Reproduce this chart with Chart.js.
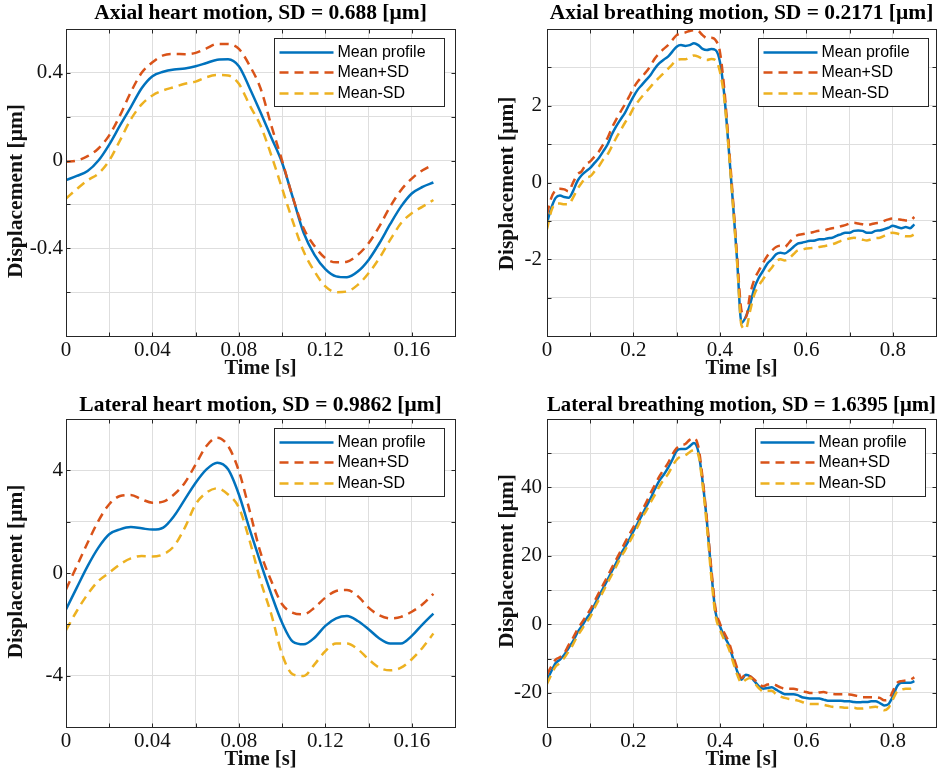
<!DOCTYPE html>
<html>
<head>
<meta charset="utf-8">
<script src="https://cdn.jsdelivr.net/npm/chart.js@4.4.0/dist/chart.umd.min.js"></script>
<style>
html, body { margin: 0; padding: 0; background: #fff; }
#wrap { position: relative; width: 945px; height: 774px; overflow: hidden; }
canvas { position: absolute; }
</style>
</head>
<body>
<div id="wrap">
  <canvas id="c1" width="470" height="385" style="left:0;top:0"></canvas>
  <canvas id="c2" width="475" height="385" style="left:470px;top:0"></canvas>
  <canvas id="c3" width="470" height="389" style="left:0;top:385px"></canvas>
  <canvas id="c4" width="475" height="389" style="left:470px;top:385px"></canvas>
</div>
<script>
//
// Data

var legendLabels = ['Mean profile', 'Mean+SD', 'Mean-SD'];

var heartTime = [0, 0.005, 0.01, 0.015, 0.02, 0.025, 0.03, 0.035, 0.04, 0.045,
    0.05, 0.055, 0.06, 0.065, 0.07, 0.075, 0.08, 0.085, 0.09, 0.095,
    0.1, 0.105, 0.11, 0.115, 0.12, 0.125, 0.13, 0.135, 0.14, 0.145,
    0.15, 0.155, 0.16, 0.165, 0.17];

var breathTime = [0, 0.01, 0.02, 0.03, 0.04, 0.05, 0.06, 0.07, 0.08, 0.09,
    0.1, 0.11, 0.12, 0.13, 0.14, 0.15, 0.16, 0.17, 0.18, 0.19,
    0.2, 0.21, 0.22, 0.23, 0.24, 0.25, 0.26, 0.27, 0.28, 0.29,
    0.3, 0.31, 0.32, 0.33, 0.34, 0.35, 0.36, 0.37, 0.38, 0.39,
    0.4, 0.41, 0.42, 0.43, 0.44, 0.45, 0.46, 0.47, 0.48, 0.49,
    0.5, 0.51, 0.52, 0.53, 0.54, 0.55, 0.56, 0.57, 0.58, 0.59,
    0.6, 0.61, 0.62, 0.63, 0.64, 0.65, 0.66, 0.67, 0.68, 0.69,
    0.7, 0.71, 0.72, 0.73, 0.74, 0.75, 0.76, 0.77, 0.78, 0.79,
    0.8, 0.81, 0.82, 0.83, 0.84, 0.85];

// Axial heart motion
var axialHeartMean = [-0.089, -0.07, -0.048, 0.0, 0.073, 0.16, 0.244, 0.33, 0.385, 0.405,
    0.415, 0.42, 0.43, 0.445, 0.46, 0.462, 0.43, 0.33, 0.22, 0.105,
    -0.01, -0.17, -0.33, -0.43, -0.495, -0.528, -0.532, -0.506, -0.453, -0.377,
    -0.29, -0.21, -0.15, -0.12, -0.1];
var axialHeartPlus = [-0.006, 0.0, 0.02, 0.055, 0.115, 0.206, 0.312, 0.4, 0.448, 0.48,
    0.486, 0.485, 0.491, 0.512, 0.532, 0.532, 0.509, 0.433, 0.33, 0.16,
    0.0, -0.17, -0.31, -0.39, -0.445, -0.464, -0.461, -0.43, -0.377, -0.3,
    -0.21, -0.135, -0.082, -0.044, -0.018];
var axialHeartMinus = [-0.173, -0.13, -0.09, -0.059, 0.0, 0.092, 0.188, 0.256, 0.297, 0.32,
    0.335, 0.35, 0.36, 0.38, 0.39, 0.388, 0.35, 0.252, 0.16, 0.024,
    -0.127, -0.279, -0.415, -0.506, -0.574, -0.6, -0.597, -0.567, -0.514, -0.445,
    -0.362, -0.286, -0.24, -0.21, -0.18];

// Axial breathing motion
var axialBreathMean = [-1.05, -0.66, -0.4, -0.34, -0.38, -0.4, -0.23, 0.03, 0.19, 0.29,
    0.38, 0.51, 0.64, 0.81, 0.99, 1.25, 1.46, 1.64, 1.81, 2.03,
    2.24, 2.42, 2.55, 2.68, 2.81, 2.98, 3.11, 3.2, 3.28, 3.41,
    3.54, 3.58, 3.56, 3.58, 3.63, 3.58, 3.48, 3.45, 3.48, 3.45,
    3.15, 2.3, 0.95, -0.5, -2.05, -3.66, -3.5, -3.17, -2.74, -2.48,
    -2.3, -2.11, -2.0, -1.87, -1.83, -1.85, -1.78, -1.68, -1.59, -1.57,
    -1.54, -1.52, -1.51, -1.48, -1.48, -1.45, -1.44, -1.39, -1.35, -1.31,
    -1.31, -1.26, -1.25, -1.26, -1.31, -1.31, -1.26, -1.25, -1.22, -1.18,
    -1.13, -1.16, -1.19, -1.16, -1.19, -1.09];
var axialBreathPlus = [-0.83, -0.4, -0.2, -0.16, -0.18, -0.23, -0.01, 0.21, 0.29, 0.47,
    0.55, 0.68, 0.81, 0.99, 1.16, 1.42, 1.64, 1.84, 2.03, 2.24,
    2.46, 2.63, 2.76, 2.89, 3.05, 3.24, 3.37, 3.48, 3.58, 3.71,
    3.84, 3.89, 3.91, 3.95, 3.97, 3.95, 3.84, 3.76, 3.77, 3.71,
    3.41, 2.46, 1.07, -0.4, -1.96, -3.34, -3.52, -2.91, -2.52, -2.3,
    -2.09, -1.91, -1.78, -1.68, -1.65, -1.68, -1.57, -1.44, -1.37, -1.35,
    -1.33, -1.31, -1.28, -1.26, -1.25, -1.22, -1.19, -1.18, -1.14, -1.11,
    -1.07, -1.05, -1.07, -1.09, -1.11, -1.09, -1.06, -1.05, -1.0, -0.96,
    -0.94, -0.95, -0.97, -0.99, -0.99, -0.9];
var axialBreathMinus = [-1.22, -0.74, -0.55, -0.55, -0.57, -0.57, -0.4, -0.18, -0.01, 0.12,
    0.16, 0.29, 0.42, 0.6, 0.73, 0.94, 1.16, 1.35, 1.55, 1.72,
    1.94, 2.1, 2.24, 2.37, 2.5, 2.63, 2.74, 2.85, 2.96, 3.08,
    3.19, 3.21, 3.21, 3.26, 3.31, 3.28, 3.22, 3.19, 3.22, 3.19,
    2.89, 2.2, 0.9, -0.57, -2.13, -3.72, -3.82, -3.34, -2.91, -2.69,
    -2.52, -2.35, -2.22, -2.06, -2.0, -2.03, -1.98, -1.87, -1.77, -1.75,
    -1.72, -1.71, -1.7, -1.68, -1.66, -1.64, -1.61, -1.57, -1.52, -1.49,
    -1.46, -1.44, -1.46, -1.49, -1.51, -1.48, -1.45, -1.44, -1.39, -1.33,
    -1.31, -1.33, -1.37, -1.4, -1.4, -1.35];

// Lateral heart motion
var lateralHeartMean = [-1.42, -0.57, 0.27, 0.99, 1.51, 1.7, 1.79, 1.74, 1.69, 1.77,
    2.22, 2.87, 3.52, 4.04, 4.3, 4.04, 3.06, 1.7, 0.4, -0.83,
    -1.94, -2.68, -2.78, -2.52, -2.06, -1.77, -1.68, -1.87, -2.19, -2.55,
    -2.75, -2.75, -2.45, -2.0, -1.58];
var lateralHeartPlus = [-0.64, 0.27, 1.18, 2.03, 2.68, 3.0, 3.04, 2.87, 2.74, 2.78,
    3.06, 3.52, 4.23, 4.95, 5.27, 4.95, 3.97, 2.42, 0.8, -0.31,
    -1.22, -1.55, -1.61, -1.35, -0.96, -0.7, -0.66, -0.9, -1.35, -1.65,
    -1.77, -1.71, -1.51, -1.22, -0.81];
var lateralHeartMinus = [-2.23, -1.48, -0.83, -0.31, 0.01, 0.34, 0.57, 0.66, 0.64, 0.73,
    1.05, 1.77, 2.68, 3.13, 3.3, 3.06, 2.55, 1.25, -0.3, -1.61,
    -3.17, -3.95, -4.01, -3.56, -3.04, -2.75, -2.75, -2.97, -3.36, -3.69,
    -3.79, -3.69, -3.36, -2.91, -2.36];

// Lateral breathing motion
var lateralBreathMean = [-16.2, -13.7, -11.3, -10.3, -8.9, -6.9, -5.0, -2.5, -0.6, 1.4,
    3.3, 5.7, 8.2, 10.6, 13.0, 15.5, 17.9, 20.4, 22.5, 24.7,
    27.2, 29.6, 32.0, 34.5, 36.9, 39.6, 42.0, 43.7, 45.7, 48.1,
    50.7, 51.2, 51.2, 52.0, 53.0, 50.5, 41.8, 30.0, 15.5, 3.5,
    -0.5, -3.5, -5.9, -9.8, -13.7, -16.2, -14.7, -15.2, -16.6, -18.1,
    -18.8, -18.6, -18.4, -19.1, -19.8, -20.4, -20.4, -20.4, -20.7, -21.3,
    -21.5, -21.7, -21.7, -21.7, -22.0, -22.3, -22.3, -22.3, -22.3, -22.5,
    -22.5, -22.7, -22.8, -22.7, -22.7, -22.5, -22.5, -23.0, -23.7, -23.3,
    -21.1, -18.1, -17.1, -17.1, -17.1, -16.6];
var lateralBreathPlus = [-14.7, -12.3, -10.3, -9.6, -8.4, -6.1, -4.0, -1.6, 0.4, 2.3,
    4.3, 6.7, 9.2, 11.6, 14.0, 16.5, 18.9, 21.3, 23.8, 26.2,
    28.4, 30.9, 33.3, 35.7, 38.4, 40.8, 43.2, 45.2, 47.1, 49.6,
    51.5, 52.3, 52.7, 53.9, 54.4, 52.0, 42.7, 30.5, 16.5, 4.5,
    0.3, -2.5, -5.0, -8.9, -12.8, -15.7, -14.5, -15.2, -16.2, -17.4,
    -18.1, -17.6, -17.4, -17.8, -18.4, -18.8, -18.8, -18.8, -19.1, -19.6,
    -19.8, -20.1, -20.1, -19.9, -19.8, -20.1, -20.3, -20.4, -20.4, -20.4,
    -20.5, -20.7, -21.0, -21.3, -21.3, -21.3, -21.3, -21.5, -22.2, -22.0,
    -19.6, -17.1, -16.6, -16.4, -16.2, -15.5];
var lateralBreathMinus = [-17.4, -14.7, -12.3, -11.3, -9.8, -7.9, -5.9, -3.5, -1.6, 0.4,
    2.1, 4.8, 7.2, 9.6, 12.1, 14.5, 16.9, 19.4, 21.5, 23.8,
    26.2, 28.6, 31.2, 33.3, 35.7, 37.9, 40.3, 42.3, 43.9, 46.2,
    48.1, 49.1, 49.4, 50.3, 51.0, 49.6, 40.8, 28.5, 14.0, 2.5,
    -1.5, -4.5, -6.9, -10.8, -14.7, -17.1, -16.2, -15.7, -17.1, -18.6,
    -19.6, -19.4, -19.4, -20.4, -21.1, -21.5, -21.8, -22.0, -22.3, -22.7,
    -23.1, -23.3, -23.3, -23.3, -23.5, -23.8, -24.1, -24.2, -24.2, -24.4,
    -24.4, -24.4, -24.6, -24.6, -24.4, -24.2, -24.1, -24.4, -25.1, -24.4,
    -22.0, -19.6, -19.1, -18.8, -18.8, -18.1];

// Tick labels
var heartXLabels = [0, 0.04, 0.08, 0.12, 0.16];
var breathXLabels = [0, 0.2, 0.4, 0.6, 0.8];
var axialHeartYLabels = [-0.4, 0, 0.4];
var axialBreathYLabels = [-2, 0, 2];
var lateralHeartYLabels = [-4, 0, 4];
var lateralBreathYLabels = [-20, 0, 20, 40];

//
// Styles
var lineStyles = [
    { color: '#0072BD', dash: [] },
    { color: '#D95319', dash: [9, 6] },
    { color: '#EDB120', dash: [9, 6] }
];
var serif = '"Liberation Serif", "Times New Roman", serif';
var textColor = '#111';
var gridColor = '#dedede';

//
// Box, inward ticks, y label and legend like MATLAB
var boxPlugin = {
    id: 'matlabBox',
    afterDraw: function(chart) {
        var ctx = chart.ctx;
        var a = chart.chartArea;
        var p = chart.options.panel;
        var xs = chart.scales.x, ys = chart.scales.y;
        var L = Math.round(a.left) + 0.5, R = Math.round(a.right) + 0.5;
        var T = Math.round(a.top) + 0.5, B = Math.round(a.bottom) + 0.5;
        ctx.save();
        ctx.strokeStyle = '#262626';
        ctx.lineWidth = 1;
        ctx.beginPath();
        xs.ticks.forEach(function(t) {
            var px = Math.round(xs.getPixelForValue(t.value)) + 0.5;
            ctx.moveTo(px, B); ctx.lineTo(px, B - 4);
            ctx.moveTo(px, T); ctx.lineTo(px, T + 4);
        });
        ys.ticks.forEach(function(t) {
            var py = Math.round(ys.getPixelForValue(t.value)) + 0.5;
            ctx.moveTo(L, py); ctx.lineTo(L + 4, py);
            ctx.moveTo(R, py); ctx.lineTo(R - 4, py);
        });
        ctx.stroke();
        ctx.strokeRect(L, T, R - L, B - T);

        // y axis label
        ctx.save();
        ctx.translate(p.yTitleX, p.yTitleY);
        ctx.rotate(-Math.PI / 2);
        ctx.fillStyle = textColor;
        ctx.font = 'bold 21.5px ' + serif;
        ctx.textAlign = 'center';
        ctx.textBaseline = 'middle';
        ctx.fillText('Displacement [\u03bcm]', 0, 0);
        ctx.restore();

        // legend
        var w = 170, h = 68;
        var lx = Math.round(a.right - p.legendRight - w) + 0.5, ly = Math.round(a.top + 9) + 0.5;
        ctx.fillStyle = '#fff';
        ctx.fillRect(lx, ly, w, h);
        ctx.strokeRect(lx, ly, w, h);
        var rows = [14, 34, 55];
        chart.data.datasets.forEach(function(ds, i) {
            var yy = ly + rows[i];
            ctx.beginPath();
            ctx.strokeStyle = ds.borderColor;
            ctx.lineWidth = ds.borderWidth;
            ctx.setLineDash(ds.borderDash || []);
            ctx.moveTo(lx + 5, yy);
            ctx.lineTo(lx + 59, yy);
            ctx.stroke();
            ctx.setLineDash([]);
            ctx.fillStyle = '#000';
            ctx.font = '16px "Liberation Sans", Arial, sans-serif';
            ctx.textBaseline = 'middle';
            ctx.textAlign = 'left';
            ctx.fillText(ds.label, lx + 63, yy);
        });
        ctx.restore();
    }
};

function near(list, v, eps) {
    for (var i = 0; i < list.length; i++) {
        if (Math.abs(list[i] - v) < eps) return list[i];
    }
    return null;
}

function makePanel(p) {
    var datasets = p.series.map(function(vals, i) {
        return {
            label: legendLabels[i],
            data: vals.map(function(v, k) { return { x: p.time[k], y: v }; }),
            borderColor: lineStyles[i].color,
            borderDash: lineStyles[i].dash,
            borderWidth: 2.5,
            pointRadius: 0,
            fill: false,
            cubicInterpolationMode: 'monotone',
            order: 3 - i
        };
    });
    new Chart(document.getElementById(p.canvas), {
        type: 'line',
        data: { datasets: datasets },
        options: {
            panel: p,
            responsive: false,
            animation: false,
            devicePixelRatio: 1,
            layout: { padding: { left: 0, right: p.rightPad, top: 0, bottom: 0 } },
            plugins: {
                legend: { display: false },
                tooltip: { enabled: false },
                title: {
                    display: true,
                    text: p.title,
                    fullSize: false,
                    color: '#000',
                    font: { family: serif, size: 21.5, weight: 'bold' },
                    padding: p.titlePad
                }
            },
            scales: {
                x: {
                    type: 'linear',
                    min: 0,
                    max: p.xMax,
                    afterFit: function(s) { s.height = p.xAxisHeight; },
                    ticks: {
                        stepSize: p.xStep,
                        autoSkip: false,
                        maxRotation: 0,
                        padding: 2,
                        color: textColor,
                        font: { family: serif, size: 21 },
                        callback: function(v) {
                            var l = near(p.xLabels, v, p.xStep / 100);
                            return l === null ? '' : String(l);
                        }
                    },
                    grid: { color: gridColor, lineWidth: 1, drawTicks: false },
                    border: { display: false },
                    title: {
                        display: true,
                        text: 'Time [s]',
                        color: textColor,
                        font: { family: serif, size: 20.5, weight: 'bold' },
                        padding: { top: 0, bottom: p.xTitleBottom }
                    }
                },
                y: {
                    type: 'linear',
                    min: p.yMin,
                    max: p.yMax,
                    afterFit: function(s) { s.width = p.yAxisWidth; },
                    ticks: {
                        stepSize: p.yStep,
                        autoSkip: false,
                        padding: p.yTickPad,
                        color: textColor,
                        font: { family: serif, size: 21 },
                        callback: function(v) {
                            var l = near(p.yLabels, v, p.yStep / 100);
                            return l === null ? '' : String(l);
                        }
                    },
                    grid: { color: gridColor, lineWidth: 1, drawTicks: false },
                    border: { display: false },
                    title: { display: false }
                }
            }
        },
        plugins: [boxPlugin]
    });
}

makePanel({
    canvas: 'c1', title: 'Axial heart motion, SD = 0.688 [\u03bcm]',
    time: heartTime, series: [axialHeartMean, axialHeartPlus, axialHeartMinus],
    xMax: 0.18, xStep: 0.02, xLabels: heartXLabels,
    yMin: -0.8, yMax: 0.6, yStep: 0.2, yLabels: axialHeartYLabels,
    yAxisWidth: 66, yTickPad: 3, yTitleX: 16, yTitleY: 191, rightPad: 15, legendRight: 11,
    xAxisHeight: 49, xTitleBottom: 4, titlePad: { top: 0.6, bottom: 2.6 }
});
makePanel({
    canvas: 'c2', title: 'Axial breathing motion, SD = 0.2171 [\u03bcm]',
    time: breathTime, series: [axialBreathMean, axialBreathPlus, axialBreathMinus],
    xMax: 0.9, xStep: 0.1, xLabels: breathXLabels,
    yMin: -4, yMax: 4, yStep: 1, yLabels: axialBreathYLabels,
    yAxisWidth: 77, yTickPad: 5, yTitleX: 37, yTitleY: 183.5, rightPad: 9, legendRight: 8,
    xAxisHeight: 49, xTitleBottom: 4, titlePad: { top: 0.6, bottom: 2.6 }
});
makePanel({
    canvas: 'c3', title: 'Lateral heart motion, SD = 0.9862 [\u03bcm]',
    time: heartTime, series: [lateralHeartMean, lateralHeartPlus, lateralHeartMinus],
    xMax: 0.18, xStep: 0.02, xLabels: heartXLabels,
    yMin: -6, yMax: 6, yStep: 2, yLabels: lateralHeartYLabels,
    yAxisWidth: 66, yTickPad: 3, yTitleX: 16, yTitleY: 186.5, rightPad: 15, legendRight: 11,
    xAxisHeight: 47, xTitleBottom: 2, titlePad: { top: 7.1, bottom: 1.1 }
});
makePanel({
    canvas: 'c4', title: 'Lateral breathing motion, SD = 1.6395 [\u03bcm]',
    time: breathTime, series: [lateralBreathMean, lateralBreathPlus, lateralBreathMinus],
    xMax: 0.9, xStep: 0.1, xLabels: breathXLabels,
    yMin: -30, yMax: 60, yStep: 10, yLabels: lateralBreathYLabels,
    yAxisWidth: 77, yTickPad: 5, yTitleX: 37, yTitleY: 176, rightPad: 9, legendRight: 11,
    xAxisHeight: 47, xTitleBottom: 2, titlePad: { top: 7.1, bottom: 1.1 }
});
</script>
</body>
</html>
